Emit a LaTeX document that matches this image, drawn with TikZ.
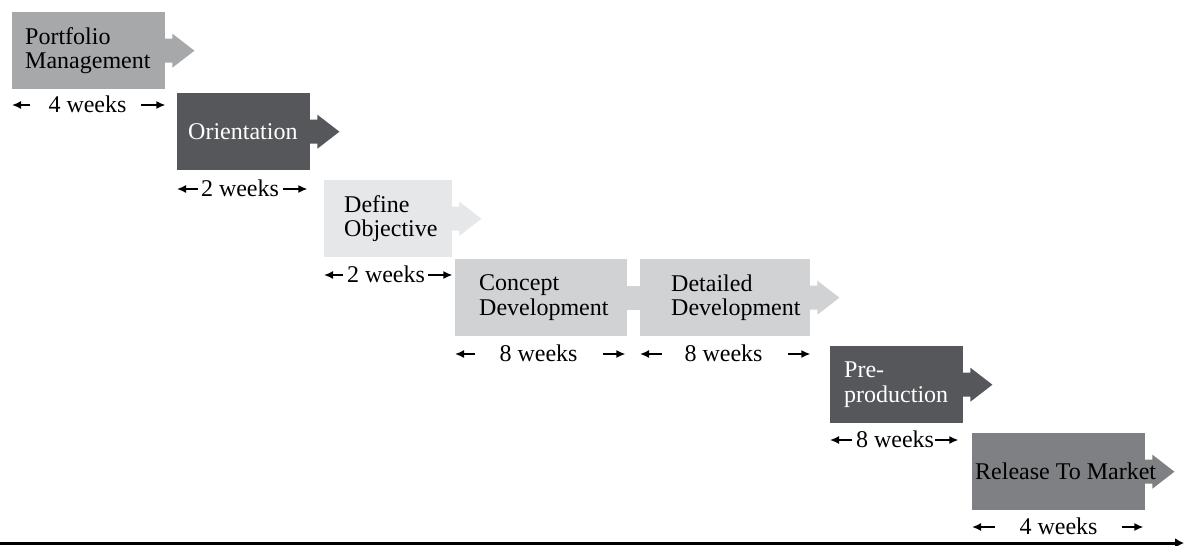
\documentclass[tikz,border=0pt]{standalone}
\usepackage{fontspec}
\setmainfont{Liberation Serif}
\usetikzlibrary{calc,arrows.meta}
\definecolor{cPort}{HTML}{A7A8AA}
\definecolor{cDark}{HTML}{56575A}
\definecolor{cLight}{HTML}{E6E7E8}
\definecolor{cMid}{HTML}{D1D2D4}
\definecolor{cRel}{HTML}{7F8083}
\newcommand\phasehead[2]{%
  \fill[#2] ($(#1.east)+(-0.5,-12)$) -- ($(#1.east)+(7,-12)$) -- ($(#1.east)+(7,-17)$)
    -- ($(#1.east)+(29,0)$) -- ($(#1.east)+(7,17)$) -- ($(#1.east)+(7,12)$)
    -- ($(#1.east)+(-0.5,12)$) -- cycle;}
\tikzset{
  phase/.style={rectangle, draw=none, inner sep=0pt, minimum height=77pt, anchor=north west},
  lbl/.style={font=\fontsize{24}{24.5}\selectfont, inner sep=0pt, anchor=west, align=left},
  wk/.style={font=\fontsize{24}{24.5}\selectfont, inner sep=0pt, anchor=base},
  dim/.style={line width=1.6pt, -{Latex[length=9pt,width=8pt]}},
  axis/.style={line width=3pt, -{Latex[length=9pt,width=10pt]}}
}
\begin{document}
\begin{tikzpicture}[x=1pt,y=-1pt]
\useasboundingbox (0,0) rectangle (1184,546);
% phases
\node[phase, fill=cPort, minimum width=153pt] (p) at (12,12) {};
\node[phase, fill=cDark, minimum width=133pt] (o) at (177,93) {};
\node[phase, fill=cLight, minimum width=128pt] (d) at (324,180) {};
\node[phase, fill=cMid, minimum width=172pt] (c) at (455,259) {};
\node[phase, fill=cMid, minimum width=170pt] (dd) at (640,259) {};
\node[phase, fill=cDark, minimum width=133pt] (pr) at (830,346) {};
\node[phase, fill=cRel, minimum width=173pt] (r) at (972,433) {};
% heads
\phasehead{p}{cPort}
\phasehead{o}{cDark}
\phasehead{d}{cLight}
\phasehead{dd}{cMid}
\phasehead{pr}{cDark}
\phasehead{r}{cRel}
\fill[cMid] ($(c.east)+(-0.5,-12)$) rectangle ($(dd.west)+(0.5,12)$);
% texts
\node[lbl] (pt) at ($(p.west)+(13,0)$) {Portfolio\\Management};
\node[lbl, text=white] (ot) at ($(o.west)+(11,0)$) {Orientation};
\node[lbl] (dt) at ($(d.west)+(20,0)$) {Define\\Objective};
\node[lbl] (ct) at ($(c.west)+(24,0)$) {Concept\\Development};
\node[lbl] (ddt) at ($(dd.west)+(31,0)$) {Detailed\\Development};
\node[lbl, text=white] (prt) at ($(pr.west)+(14,0)$) {Pre-\\production};
\node[lbl] (rt) at ($(r.west)+(3,0)$) {Release To Market};
% durations
\node[wk] (w1) at (87.5,112) {4 weeks};
\node[wk] (w2) at (240,196) {2 weeks};
\node[wk] (w3) at (386,282) {2 weeks};
\node[wk] (w4) at (538.5,361) {8 weeks};
\node[wk] (w5) at (723.5,361) {8 weeks};
\node[wk] (w6) at (895,447) {8 weeks};
\node[wk] (w7) at (1058.5,534) {4 weeks};
\coordinate (a1) at (30,105);   \coordinate (b1) at (141,105);
\coordinate (a2) at (198,189);  \coordinate (b2) at (283,189);
\coordinate (a3) at (343,275);  \coordinate (b3) at (428,275);
\coordinate (a4) at (475,354);  \coordinate (b4) at (603,354);
\coordinate (a5) at (662,354);  \coordinate (b5) at (788,354);
\coordinate (a6) at (852,440);  \coordinate (b6) at (935,440);
\coordinate (a7) at (995,527);  \coordinate (b7) at (1122,527);
\draw[dim] (a1) -- (p.west |- a1);  \draw[dim] (b1) -- (p.east |- b1);
\draw[dim] (a2) -- (o.west |- a2);  \draw[dim] (b2) -- ($(o.east |- b2)+(-3,0)$);
\draw[dim] (a3) -- (d.west |- a3);  \draw[dim] (b3) -- (d.east |- b3);
\draw[dim] (a4) -- (c.west |- a4);  \draw[dim] (b4) -- ($(c.east |- b4)+(-2,0)$);
\draw[dim] (a5) -- (dd.west |- a5); \draw[dim] (b5) -- (dd.east |- b5);
\draw[dim] (a6) -- (pr.west |- a6); \draw[dim] (b6) -- ($(pr.east |- b6)+(-5,0)$);
\draw[dim] (a7) -- (r.west |- a7);  \draw[dim] (b7) -- ($(r.east |- b7)+(-2,0)$);
% time axis
\coordinate (ax0) at (0,543);
\coordinate (ax1) at (1184,543);
\draw[axis] (ax0) -- (ax1);
\end{tikzpicture}
\end{document}
